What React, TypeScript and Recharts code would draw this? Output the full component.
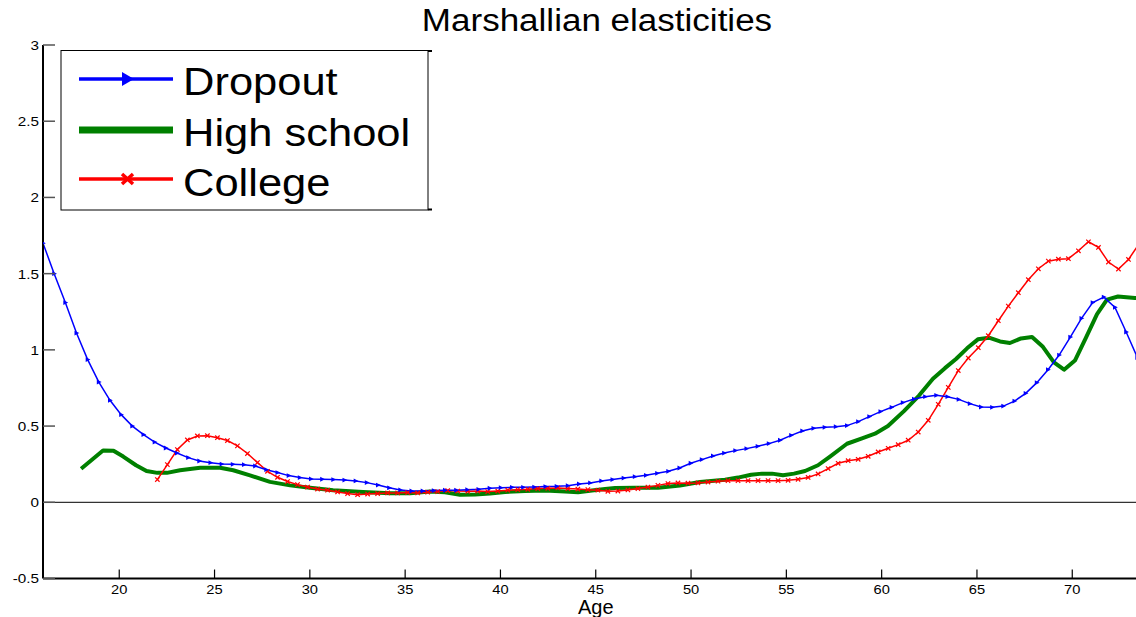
import React from 'react';
import { LineChart, Line, XAxis, YAxis, ReferenceLine } from 'recharts';

// ages: 100 points from 16 to 74 (dropout) and 22 to 74 (college)
const dropoutAges = Array.from({ length: 100 }, (_, i) => 16 + (i * 58) / 99);
const dropout = [
  1.70, 1.50, 1.31, 1.11, 0.936, 0.789, 0.669, 0.575, 0.500, 0.444,
  0.395, 0.356, 0.323, 0.293, 0.271, 0.260, 0.251, 0.249, 0.247, 0.238,
  0.214, 0.195, 0.175, 0.162, 0.153, 0.151, 0.149, 0.146, 0.140, 0.129,
  0.113, 0.095, 0.081, 0.074, 0.074, 0.077, 0.079, 0.079, 0.083, 0.085,
  0.092, 0.096, 0.098, 0.098, 0.100, 0.103, 0.105, 0.109, 0.120, 0.127,
  0.140, 0.149, 0.159, 0.168, 0.177, 0.190, 0.203, 0.225, 0.256, 0.280,
  0.304, 0.323, 0.339, 0.352, 0.367, 0.385, 0.407, 0.439, 0.468, 0.485,
  0.492, 0.496, 0.503, 0.529, 0.562, 0.595, 0.623, 0.654, 0.677, 0.693,
  0.702, 0.693, 0.675, 0.647, 0.625, 0.623, 0.631, 0.664, 0.715, 0.785,
  0.870, 0.966, 1.084, 1.207, 1.310, 1.346, 1.279, 1.117, 0.95, 0.78,
];

const collegeAges = Array.from({ length: 100 }, (_, i) => 22 + (i * 52) / 99);
const college = [
  0.149, 0.247, 0.346, 0.409, 0.435, 0.437, 0.424, 0.405, 0.370, 0.320,
  0.261, 0.203, 0.164, 0.136, 0.116, 0.100, 0.087, 0.079, 0.068, 0.057,
  0.050, 0.054, 0.057, 0.061, 0.061, 0.064, 0.061, 0.066, 0.070, 0.077,
  0.074, 0.072, 0.074, 0.070, 0.074, 0.079, 0.083, 0.085, 0.090, 0.092,
  0.094, 0.090, 0.087, 0.083, 0.079, 0.072, 0.074, 0.081, 0.090, 0.100,
  0.111, 0.123, 0.127, 0.125, 0.127, 0.133, 0.138, 0.142, 0.142, 0.142,
  0.142, 0.142, 0.142, 0.144, 0.151, 0.163, 0.186, 0.221, 0.256, 0.273,
  0.282, 0.302, 0.330, 0.354, 0.378, 0.407, 0.461, 0.538, 0.643, 0.754,
  0.864, 0.946, 1.014, 1.093, 1.191, 1.287, 1.375, 1.460, 1.532, 1.582,
  1.595, 1.598, 1.650, 1.709, 1.672, 1.576, 1.530, 1.593, 1.69, 1.80,
];

const highSchoolAges = [
  18.0, 19.15, 19.7, 20.21, 20.88, 21.43, 22.0, 22.5, 23.19, 24.24,
  25.29, 25.98, 26.86, 27.91, 28.96, 30.01, 31.22, 32.79, 34.21, 35.26,
  36.3, 37.09, 37.88, 38.67, 39.45, 40.24, 41.29, 42.34, 43.39, 44.07,
  44.8, 45.49, 46.01, 47.06, 48.27, 49.42, 50.47, 51.78, 52.46, 53.15,
  53.72, 54.25, 54.82, 55.4, 55.98, 56.66, 57.29, 58.18, 58.97, 59.65,
  60.33, 61.17, 61.96, 62.69, 63.32, 63.9, 64.48, 65.05, 65.63, 66.21,
  66.73, 67.31, 67.89, 68.46, 69.04, 69.57, 70.14, 70.72, 71.3, 71.82,
  72.4, 73.29, 74,
];
const highSchool = [
  0.22, 0.34, 0.338, 0.30, 0.243, 0.205, 0.193, 0.193, 0.21, 0.226,
  0.226, 0.21, 0.177, 0.134, 0.111, 0.095, 0.079, 0.068, 0.06, 0.06,
  0.07, 0.066, 0.05, 0.051, 0.057, 0.068, 0.074, 0.077, 0.07, 0.066,
  0.078, 0.087, 0.094, 0.096, 0.096, 0.11, 0.133, 0.148, 0.162, 0.181,
  0.188, 0.188, 0.177, 0.188, 0.205, 0.243, 0.30, 0.384, 0.42, 0.45,
  0.50, 0.598, 0.70, 0.81, 0.88, 0.94, 1.01, 1.069, 1.08, 1.055,
  1.045, 1.075, 1.085, 1.02, 0.918, 0.87, 0.93, 1.08, 1.235, 1.33,
  1.35, 1.34, 1.34,
];

const xTicks = [20, 25, 30, 35, 40, 45, 50, 55, 60, 65, 70];
const yTicks = [-0.5, 0, 0.5, 1, 1.5, 2, 2.5, 3];
const seriesNames = ['Dropout', 'High school', 'College'];
const seriesColors = ['#0000ff', '#008000', '#ff0000'];

const dropoutData = dropoutAges.map((age, i) => ({ age, v: dropout[i] }));
const collegeData = collegeAges.map((age, i) => ({ age, v: college[i] }));
const highSchoolData = highSchoolAges.map((age, i) => ({ age, v: highSchool[i] }));

const FONT = '"Liberation Sans", Arial, Helvetica, sans-serif';
const SX = 1.13; // the original figure is a bit stretched horizontally

const stretch = (x: number) => `translate(${x},0) scale(${SX},1) translate(${-x},0)`;

const YTick = (props: any) => {
  const { x, y, payload } = props;
  const tx = x - 4;
  return (
    <g>
      <line x1={x} x2={x + 12} y1={y} y2={y} stroke="#555" strokeWidth={1.5} />
      <text x={tx} y={y + 5} textAnchor="end" fontSize={13.5} fontFamily={FONT} fill="#000" transform={stretch(tx)}>
        {payload.value}
      </text>
    </g>
  );
};

const XTick = (props: any) => {
  const { x, y, payload } = props;
  return (
    <g>
      <line x1={x} x2={x} y1={y} y2={y - 9} stroke="#000" strokeWidth={1.2} />
      <text x={x} y={y + 16} textAnchor="middle" fontSize={13} fontFamily={FONT} fill="#000" transform={stretch(x)}>
        {payload.value}
      </text>
    </g>
  );
};

const TopTick = (props: any) => {
  const { x, y } = props;
  return <line x1={x} x2={x} y1={y} y2={y + 9} stroke="#000" strokeWidth={1.2} />;
};

const TriDot = (props: any) => {
  const { cx, cy, index } = props;
  if (cx == null || cy == null) return <g key={index} />;
  return <path key={index} d={`M${cx - 2},${cy - 2.4} L${cx + 2.8},${cy} L${cx - 2},${cy + 2.4} Z`} fill="#0000ff" />;
};

const CrossDot = (props: any) => {
  const { cx, cy, index } = props;
  if (cx == null || cy == null) return <g key={index} />;
  return (
    <path
      key={index}
      d={`M${cx - 2.2},${cy - 2.2} L${cx + 2.2},${cy + 2.2} M${cx - 2.2},${cy + 2.2} L${cx + 2.2},${cy - 2.2}`}
      stroke="#ff0000"
      strokeWidth={1.2}
    />
  );
};

const Legend = () => {
  const rows = [79, 130, 179];
  const baselines = [95, 146.5, 196];
  return (
    <g>
      <rect x={61} y={50.5} width={367} height={159.5} fill="#fff" stroke="#000" strokeWidth={1} />
      <line x1={428} x2={432} y1={51} y2={51} stroke="#000" strokeWidth={2} />
      <line x1={428} x2={432} y1={209.5} y2={209.5} stroke="#000" strokeWidth={2} />
      <line x1={79} x2={173} y1={rows[0]} y2={rows[0]} stroke={seriesColors[0]} strokeWidth={3.5} />
      <path d={`M122,${rows[0] - 7} L134,${rows[0]} L122,${rows[0] + 7} Z`} fill={seriesColors[0]} />
      <line x1={79} x2={173} y1={rows[1]} y2={rows[1]} stroke={seriesColors[1]} strokeWidth={7} />
      <line x1={79} x2={173} y1={rows[2]} y2={rows[2]} stroke={seriesColors[2]} strokeWidth={3.5} />
      <path
        d={`M122,${rows[2] - 5} L133,${rows[2] + 5} M122,${rows[2] + 5} L133,${rows[2] - 5}`}
        stroke={seriesColors[2]}
        strokeWidth={3.5}
      />
      {seriesNames.map((name, i) => (
        <text key={name} x={183} y={baselines[i]} fontSize={38.5} fontFamily={FONT} fill="#000" transform={stretch(183)}>
          {name}
        </text>
      ))}
    </g>
  );
};

export default function App() {
  return (
    <div style={{ position: 'fixed', left: 0, top: 0, width: 1136, height: 617, overflow: 'hidden', background: '#fff' }}>
      <LineChart width={1160} height={617} margin={{ top: 45, right: 11.5, bottom: 0, left: 0 }}>
        <XAxis
          xAxisId={0}
          dataKey="age"
          type="number"
          domain={[16, 74]}
          ticks={xTicks}
          allowDataOverflow
          height={38.5}
          tickSize={0}
          tickMargin={0}
          tickLine={false}
          tick={<XTick />}
          axisLine={{ stroke: '#000', strokeWidth: 2 }}
          label={{ value: 'Age', position: 'insideBottom', offset: 3.5, style: { fontSize: 20, fontFamily: FONT, fill: '#000' } }}
        />
        <XAxis
          xAxisId="top"
          orientation="top"
          dataKey="age"
          type="number"
          domain={[16, 74]}
          ticks={xTicks}
          allowDataOverflow
          height={0}
          tickSize={0}
          tickMargin={0}
          tickLine={false}
          tick={<TopTick />}
          axisLine={{ stroke: '#000', strokeWidth: 1.3 }}
        />
        <YAxis
          type="number"
          domain={[-0.5, 3]}
          ticks={yTicks}
          allowDataOverflow
          width={43}
          tickSize={0}
          tickMargin={0}
          tickLine={false}
          tick={<YTick />}
          axisLine={{ stroke: '#000', strokeWidth: 2 }}
        />
        <ReferenceLine y={0} stroke="#333" strokeWidth={1.2} />
        <Line
          data={highSchoolData}
          dataKey="v"
          name={seriesNames[1]}
          type="linear"
          stroke={seriesColors[1]}
          strokeWidth={4}
          strokeLinejoin="round"
          dot={false}
          activeDot={false}
          isAnimationActive={false}
        />
        <Line
          data={collegeData}
          dataKey="v"
          name={seriesNames[2]}
          type="linear"
          stroke={seriesColors[2]}
          strokeWidth={1.5}
          dot={(p: any) => <CrossDot key={p.index} {...p} />}
          activeDot={false}
          isAnimationActive={false}
        />
        <Line
          data={dropoutData}
          dataKey="v"
          name={seriesNames[0]}
          type="linear"
          stroke={seriesColors[0]}
          strokeWidth={1.5}
          dot={(p: any) => <TriDot key={p.index} {...p} />}
          activeDot={false}
          isAnimationActive={false}
        />
      </LineChart>
      <svg width={1136} height={617} style={{ position: 'absolute', left: 0, top: 0, pointerEvents: 'none' }}>
        <text x={597} y={31} textAnchor="middle" fontSize={31} fontFamily={FONT} fill="#000" transform={stretch(597)}>
          Marshallian elasticities
        </text>
        <Legend />
      </svg>
    </div>
  );
}
